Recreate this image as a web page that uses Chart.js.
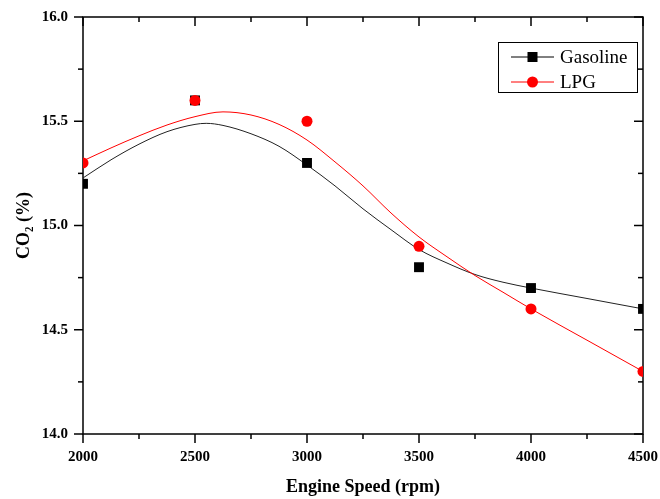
<!DOCTYPE html>
<html><head><meta charset="utf-8">
<script src="https://cdn.jsdelivr.net/npm/chart.js@4"></script>
<style>html,body{margin:0;padding:0;background:#fff}#wrap{width:660px;height:499px}</style>
</head><body><div id="wrap"><canvas id="c" width="660" height="499"></canvas></div>
<script>
// Measured data points
const speeds = [2000, 2500, 3000, 3500, 4000, 4500];
const gasolineCO2 = [15.2, 15.6, 15.3, 14.8, 14.7, 14.6];
const lpgCO2 = [15.3, 15.6, 15.5, 14.9, 14.6, 14.3];
// Smoothed fit curves
const gasolineFitX = [2000, 2125, 2250, 2375, 2500, 2550, 2625, 2750, 2875, 3000, 3125, 3250, 3375, 3500, 3625, 3750, 3875, 4000, 4250, 4500];
const gasolineFitY = [15.228, 15.315, 15.39, 15.45, 15.485, 15.49, 15.48, 15.44, 15.38, 15.29, 15.19, 15.08, 14.98, 14.885, 14.82, 14.765, 14.728, 14.70, 14.65, 14.60];
const lpgFitX = [2000, 2125, 2250, 2375, 2500, 2625, 2750, 2875, 3000, 3125, 3250, 3375, 3500, 3625, 3750, 3875, 4000, 4250, 4500];
const lpgFitY = [15.31, 15.372, 15.43, 15.482, 15.522, 15.545, 15.53, 15.485, 15.41, 15.305, 15.19, 15.06, 14.945, 14.85, 14.76, 14.68, 14.60, 14.45, 14.30];
// Ticks
const xMajorTicks = [2000, 2500, 3000, 3500, 4000, 4500];
const xMinorTicks = [2250, 2750, 3250, 3750, 4250];
const yMajorTicks = [14.0, 14.5, 15.0, 15.5, 16.0];
const yMinorTicks = [14.25, 14.75, 15.25, 15.75];
const seriesNames = ['Gasoline', 'LPG'];
const seriesColors = ['#000000', '#ff0000'];
const seriesStyles = ['rect', 'circle'];

const pts = (xs, ys) => xs.map((x, i) => ({x, y: ys[i]}));

const framePlugin = {
  id: 'frame',
  beforeDatasetsDraw(chart) {
    const {ctx, chartArea: a, scales: {x, y}} = chart;
    ctx.save();
    ctx.strokeStyle = '#000';
    ctx.lineWidth = 1.5;
    ctx.strokeRect(a.left, a.top, a.right - a.left, a.bottom - a.top);
    const seg = (x1, y1, x2, y2) => { ctx.beginPath(); ctx.moveTo(x1, y1); ctx.lineTo(x2, y2); ctx.stroke(); };
    const xs = xMajorTicks.map(v => [v, 9]).concat(xMinorTicks.map(v => [v, 5]));
    for (const [v, L] of xs) {
      const px = x.getPixelForValue(v);
      seg(px, a.bottom, px, a.bottom + L);
      seg(px, a.top, px, a.top + L);
    }
    const ys = yMajorTicks.map(v => [v, 9]).concat(yMinorTicks.map(v => [v, 5]));
    for (const [v, L] of ys) {
      const py = y.getPixelForValue(v);
      seg(a.left - L, py, a.left, py);
      seg(a.right - L, py, a.right, py);
    }
    ctx.restore();
  },
  afterDraw(chart) {
    const {ctx, chartArea: a} = chart;
    ctx.save();
    const bx = a.right - 145, by = a.top + 25, bw = 139, bh = 50;
    ctx.strokeStyle = '#000';
    ctx.lineWidth = 1;
    ctx.strokeRect(bx + 0.5, by + 0.5, bw, bh);
    const rows = [by + 15, by + 40];
    ctx.font = '19px "Liberation Serif"';
    ctx.textBaseline = 'middle';
    ctx.textAlign = 'left';
    for (let i = 0; i < 2; i++) {
      const ry = rows[i];
      ctx.strokeStyle = seriesColors[i];
      ctx.lineWidth = 1;
      ctx.beginPath(); ctx.moveTo(bx + 13, ry); ctx.lineTo(bx + 56, ry); ctx.stroke();
      ctx.fillStyle = seriesColors[i];
      if (seriesStyles[i] === 'rect') ctx.fillRect(bx + 34.5 - 5, ry - 5, 10, 10);
      else { ctx.beginPath(); ctx.arc(bx + 34.5, ry, 5.5, 0, Math.PI * 2); ctx.fill(); }
      ctx.fillStyle = '#000';
      ctx.fillText(seriesNames[i], bx + 62, ry + 1);
    }
    ctx.restore();
  }
};

new Chart(document.getElementById('c'), {
  type: 'line',
  data: {
    datasets: [
      {label: seriesNames[1] + ' data', data: pts(speeds, lpgCO2), showLine: false,
       pointStyle: 'circle', pointRadius: 5.5, pointBackgroundColor: '#ff0000', pointBorderWidth: 0, order: 0},
      {label: seriesNames[0] + ' data', data: pts(speeds, gasolineCO2), showLine: false,
       pointStyle: 'rect', pointRadius: 7, pointBackgroundColor: '#000000', pointBorderWidth: 0, order: 1},
      {label: seriesNames[1] + ' fit', data: pts(lpgFitX, lpgFitY), borderColor: '#ff0000', borderWidth: 1,
       pointRadius: 0, cubicInterpolationMode: 'monotone', fill: false, order: 2},
      {label: seriesNames[0] + ' fit', data: pts(gasolineFitX, gasolineFitY), borderColor: '#222222', borderWidth: 1,
       pointRadius: 0, cubicInterpolationMode: 'monotone', fill: false, order: 3}
    ]
  },
  options: {
    responsive: false, animation: false, devicePixelRatio: 1,
    layout: {padding: {top: 17, right: 17, left: 0, bottom: 0}},
    plugins: {legend: {display: false}, tooltip: {enabled: false}},
    scales: {
      x: {
        type: 'linear', min: 2000, max: 4500,
        afterBuildTicks: s => { s.ticks = xMajorTicks.map(v => ({value: v})); },
        afterFit: s => { s.height = 65; s.paddingLeft = 0; s.paddingRight = 0; },
        grid: {display: false, drawTicks: false}, border: {display: false},
        ticks: {padding: 14, color: '#000', maxRotation: 0, callback: v => String(v),
                font: {family: 'Liberation Serif', size: 15, weight: 'bold'}},
        title: {display: true, text: 'Engine Speed (rpm)', color: '#000', padding: {top: 0, bottom: 1},
                font: {family: 'Liberation Serif', size: 18, weight: 'bold'}}
      },
      y: {
        type: 'linear', min: 14, max: 16,
        afterBuildTicks: s => { s.ticks = yMajorTicks.map(v => ({value: v})); },
        afterFit: s => { s.width = 83; s.paddingTop = 0; s.paddingBottom = 0; },
        grid: {display: false, drawTicks: false}, border: {display: false},
        ticks: {padding: 15, color: '#000', callback: v => Number(v).toFixed(1),
                font: {family: 'Liberation Serif', size: 15, weight: 'bold'}},
        title: {display: true, text: 'CO₂ (%)', color: '#000', padding: {top: 14, bottom: 0},
                font: {family: 'Liberation Serif', size: 18, weight: 'bold'}}
      }
    }
  },
  plugins: [framePlugin]
});
</script></body></html>
